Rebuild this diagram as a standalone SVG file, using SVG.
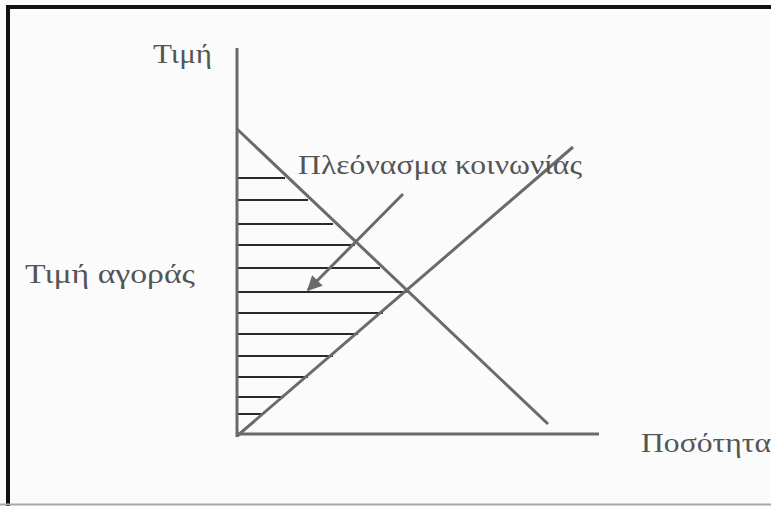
<svg xmlns="http://www.w3.org/2000/svg" width="771" height="506" viewBox="0 0 771 506">
<defs>
<style>
.ax{stroke:#6a6a6a;stroke-width:3;fill:none;stroke-linecap:butt}
.h{stroke:#2a2a2a;stroke-width:2}
.t{font-family:"Liberation Serif","DejaVu Serif",serif;font-size:28px;fill:#555}
</style>
<marker id="ah" viewBox="0 0 10 10" refX="9" refY="5" markerWidth="5" markerHeight="5" orient="auto" markerUnits="strokeWidth">
<path d="M0,0 L10,5 L0,10 z" fill="#6a6a6a"/>
</marker>
</defs>
<rect width="771" height="506" fill="#fbfbfb"/>
<path d="M8,506 V7 H771" fill="none" stroke="#111" stroke-width="4"/>
<line x1="0" y1="504.5" x2="771" y2="504.5" stroke="#aaa" stroke-width="2"/>
<g id="hatch">
<line class="h" x1="237" y1="178" x2="285" y2="178"/>
<line class="h" x1="237" y1="200" x2="308" y2="200"/>
<line class="h" x1="237" y1="224" x2="333" y2="224"/>
<line class="h" x1="237" y1="245" x2="355" y2="245"/>
<line class="h" x1="237" y1="268" x2="380" y2="268"/>
<line class="h" x1="237" y1="292" x2="407" y2="292"/>
<line class="h" x1="237" y1="313" x2="383" y2="313"/>
<line class="h" x1="237" y1="334" x2="358" y2="334"/>
<line class="h" x1="237" y1="356" x2="333" y2="356"/>
<line class="h" x1="237" y1="377" x2="308" y2="377"/>
<line class="h" x1="237" y1="397" x2="284" y2="397"/>
<line class="h" x1="237" y1="414" x2="262" y2="414"/>
</g>
<g id="axes">
<line class="ax" x1="237" y1="48" x2="237" y2="437"/>
<line class="ax" x1="237" y1="434" x2="599" y2="434"/>
</g>
<g id="curves">
<line class="ax" x1="237" y1="129" x2="548" y2="424"/>
<line class="ax" x1="237" y1="436" x2="573" y2="147"/>
</g>
<g id="connectors">
<line class="ax" x1="403" y1="194" x2="308" y2="290" marker-end="url(#ah)"/>
</g>
<g id="labels">
<text class="t" x="153" y="63" textLength="59" lengthAdjust="spacingAndGlyphs">Τιμή</text>
<text class="t" x="25" y="283" textLength="170" lengthAdjust="spacingAndGlyphs">Τιμή αγοράς</text>
<text class="t" x="298" y="174" textLength="284" lengthAdjust="spacingAndGlyphs">Πλεόνασμα κοινωνίας</text>
<text class="t" x="641" y="452" textLength="130" lengthAdjust="spacingAndGlyphs">Ποσότητα</text>
</g>
</svg>
